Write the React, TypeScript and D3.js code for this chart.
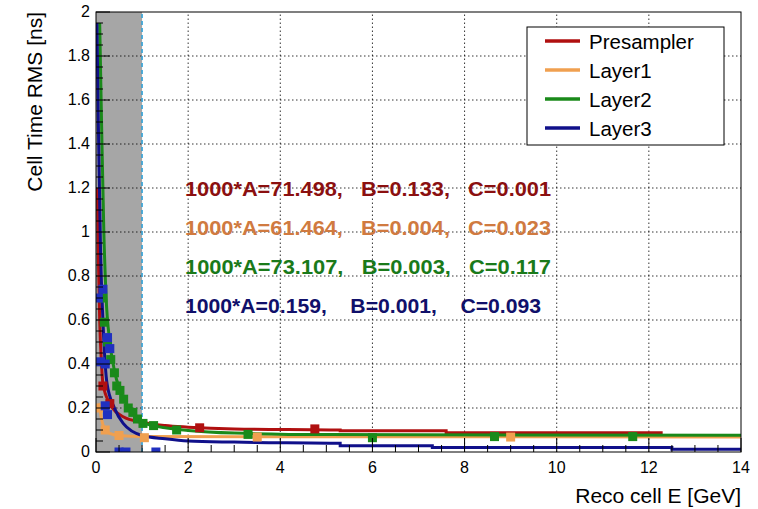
import React from "react";
import * as d3 from "d3";

type P = [number, number];

const seriesNames = ["Presampler", "Layer1", "Layer2", "Layer3"];
const seriesColors = ["#b01010", "#f0a050", "#1a8a1a", "#10108a"];
const fitTexts = [
  "1000*A=71.498,   B=0.133,   C=0.001",
  "1000*A=61.464,   B=0.004,   C=0.023",
  "1000*A=73.107,   B=0.003,   C=0.117",
  "1000*A=0.159,    B=0.001,    C=0.093",
];
const fitTextColors = ["#8b1010", "#d07a40", "#1a7a1a", "#10106a"];

// fit curves
const presamplerFit: P[] = [[0.03, 1.2], [0.05, 0.9], [0.08, 0.6], [0.12, 0.4], [0.15, 0.31], [0.3, 0.22], [0.59, 0.16], [1, 0.135], [1.5, 0.12], [2, 0.113], [3, 0.105], [5.3, 0.1], [5.3, 0.097], [7.6, 0.097], [7.6, 0.088], [12.3, 0.088]];
const layer1Fit: P[] = [[0.05, 0.22], [0.08, 0.2], [0.12, 0.15], [0.2, 0.1], [0.3, 0.085], [0.5, 0.075], [1, 0.07], [14, 0.068]];
const layer2Fit: P[] = [[0.08, 1.95], [0.12, 1.5], [0.17, 1.0], [0.22, 0.7], [0.3, 0.5], [0.4, 0.37], [0.52, 0.28], [0.8, 0.18], [1.02, 0.135], [1.5, 0.11], [2, 0.098], [3, 0.086], [5, 0.079], [14, 0.076]];
const layer3Fit: P[] = [[0.02, 1.95], [0.05, 1.5], [0.1, 0.9], [0.15, 0.6], [0.24, 0.31], [0.4, 0.2], [0.59, 0.13], [1, 0.075], [1.5, 0.06], [2, 0.05], [3, 0.045], [5.3, 0.04], [5.3, 0.028], [7.3, 0.028], [7.3, 0.02], [12.5, 0.02], [12.5, 0.012], [14, 0.012]];
const fits = [presamplerFit, layer1Fit, layer2Fit, layer3Fit];

// measured points
const presamplerPts: P[] = [[0.15, 0.3], [0.3, 0.22], [2.25, 0.11], [4.75, 0.105]];
const layer1Pts: P[] = [[0.08, 0.2], [0.2, 0.1], [0.5, 0.075], [1.05, 0.065], [3.5, 0.068], [9, 0.068]];
const layer2Pts: P[] = [[0.15, 0.7], [0.18, 0.59], [0.25, 0.5], [0.32, 0.42], [0.4, 0.36], [0.45, 0.3], [0.52, 0.28], [0.6, 0.24], [0.7, 0.2], [0.8, 0.18], [0.9, 0.15], [1.02, 0.13], [1.25, 0.12], [1.75, 0.1], [3.3, 0.08], [6, 0.065], [8.65, 0.07], [11.65, 0.07]];
const layer3Pts: P[] = [[0.05, 0.7], [0.15, 0.74], [0.1, 0.41], [0.3, 0.47], [0.25, 0.52], [0.2, 0.4], [0.2, 0.21], [0.25, 0.17], [0.5, 0.0], [0.65, 0.0], [1.3, 0.0]];
const points = [presamplerPts, layer1Pts, layer2Pts, layer3Pts];

const xTicks = [0, 2, 4, 6, 8, 10, 12, 14];
const yTicks = [0, 0.2, 0.4, 0.6, 0.8, 1, 1.2, 1.4, 1.6, 1.8, 2];

const W = 758, H = 509;
const m = { left: 96, right: 17, top: 12, bottom: 57 };

export default function App() {
  const x = d3.scaleLinear().domain([0, 14]).range([m.left, W - m.right]);
  const y = d3.scaleLinear().domain([0, 2]).range([H - m.bottom, m.top]);
  const line = d3.line<P>().x((d) => x(d[0])).y((d) => y(Math.min(d[1], 2))).curve(d3.curveMonotoneX);
  const font = "Liberation Sans, Arial, sans-serif";
  const xMinor = d3.range(0, 14.01, 0.5);
  const yMinor = d3.range(0, 2.001, 0.05);

  return (
    <svg width={W} height={H} style={{ position: "absolute", left: 0, top: 0, background: "#fff" }} fontFamily={font}>
      <defs>
        <clipPath id="plot">
          <rect x={m.left} y={m.top} width={W - m.left - m.right} height={H - m.top - m.bottom} />
        </clipPath>
      </defs>
      <rect x={x(0)} y={y(2)} width={x(1) - x(0)} height={y(0) - y(2)} fill="#a6a6a6" />
      {xTicks.slice(1, -1).map((t) => (
        <line key={"gx" + t} x1={x(t)} x2={x(t)} y1={y(0)} y2={y(2)} stroke="#000" strokeWidth={0.8} strokeDasharray="1.5,2.5" />
      ))}
      {yTicks.slice(1, -1).map((t) => (
        <line key={"gy" + t} x1={x(0)} x2={x(14)} y1={y(t)} y2={y(t)} stroke="#000" strokeWidth={0.8} strokeDasharray="1.5,2.5" />
      ))}
      <line x1={x(1)} x2={x(1)} y1={y(0)} y2={y(2)} stroke="#2aa0d8" strokeWidth={1.5} strokeDasharray="4,3" />
      <g clipPath="url(#plot)">
        {fits.map((f, i) => (
          <path key={"f" + i} d={line(f) || ""} fill="none" stroke={seriesColors[i]} strokeWidth={3} />
        ))}
        {points.map((ps, i) =>
          ps.map((p, j) => (
            <rect key={`p${i}-${j}`} x={x(p[0]) - 4.5} y={y(p[1]) - 4.5} width={9} height={9} fill={i === 3 ? "#2030c0" : seriesColors[i]} />
          ))
        )}
      </g>
      <rect x={m.left} y={m.top} width={W - m.left - m.right} height={H - m.top - m.bottom} fill="none" stroke="#000" strokeWidth={1} />
      {xMinor.map((t) => (
        <line key={"xm" + t} x1={x(t)} x2={x(t)} y1={y(0)} y2={y(0) - (t % 2 === 0 ? 14 : 7)} stroke="#000" />
      ))}
      {yMinor.map((t, i) => (
        <line key={"ym" + i} x1={x(0)} x2={x(0) + (i % 4 === 0 ? 14 : 7)} y1={y(t)} y2={y(t)} stroke="#000" />
      ))}
      {xTicks.map((t) => (
        <text key={"xl" + t} x={x(t)} y={y(0) + 21} fontSize={16} textAnchor="middle">{t}</text>
      ))}
      {yTicks.map((t) => (
        <text key={"yl" + t} x={x(0) - 6} y={y(t) + 5} fontSize={16} textAnchor="end">{t}</text>
      ))}
      <text x={741} y={503} fontSize={21} textAnchor="end">Reco cell E [GeV]</text>
      <text transform="translate(42,12) rotate(-90)" fontSize={21} textAnchor="end">Cell Time RMS [ns]</text>
      <rect x={527} y={27} width={197} height={118} fill="#fff" stroke="#000" />
      {seriesNames.map((n, i) => (
        <g key={n}>
          <line x1={545} x2={580} y1={41 + i * 29} y2={41 + i * 29} stroke={seriesColors[i]} strokeWidth={3.5} />
          <text x={589} y={48.5 + i * 29} fontSize={20.5}>{n}</text>
        </g>
      ))}
      {fitTexts.map((row, i) => (
        <text key={"ft" + i} x={185} y={196 + i * 39} fontSize={19.5} fontWeight="bold" fill={fitTextColors[i]}
          style={{ whiteSpace: "pre" }} textLength={i === 3 ? 356 : 366} lengthAdjust="spacingAndGlyphs">{row}</text>
      ))}
    </svg>
  );
}
